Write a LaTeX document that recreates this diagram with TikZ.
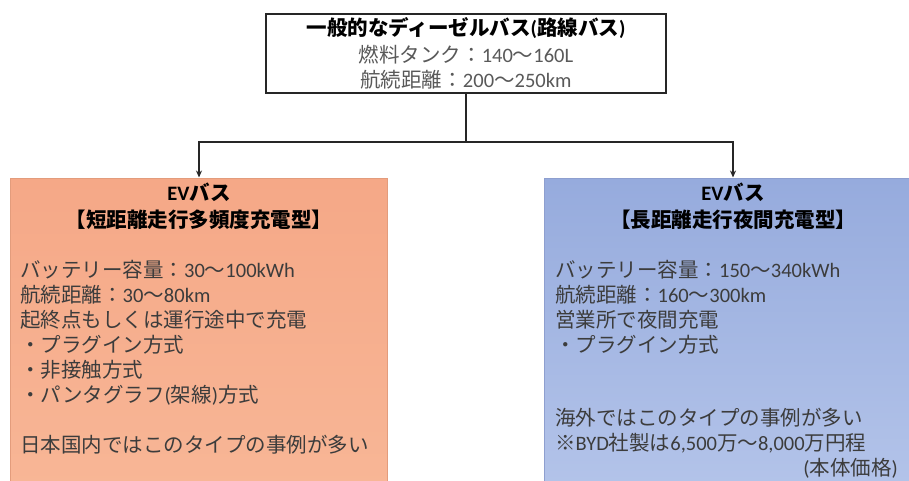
\documentclass[tikz,border=0pt]{standalone}
\usepackage{fontspec}
\setmainfont{Carlito}
\newfontfamily\jp{Noto Sans CJK JP}
\usetikzlibrary{arrows.meta}
\newcommand{\J}[1]{{\jp #1}}
\definecolor{bodytxt}{HTML}{3C3C3C}
\definecolor{greytxt}{HTML}{595959}
\definecolor{orA}{HTML}{F5A887}
\definecolor{orB}{HTML}{F8B797}
\definecolor{orLine}{HTML}{E39C7C}
\definecolor{blA}{HTML}{96ABDD}
\definecolor{blB}{HTML}{B5C5EA}
\definecolor{blLine}{HTML}{8E9FCF}
\tikzset{
  x=1pt, y=-1pt,
  txt/.style={inner sep=0pt, font=\fontsize{20.5}{24}\selectfont, text=bodytxt},
  ttl/.style={inner sep=0pt, font=\fontsize{20.5}{24}\selectfont\bfseries, text=black},
  conn/.style={line width=1.5pt, draw=black!85},
  arr/.style={conn, -{Stealth[length=7pt,width=6pt]}},
  topbox/.style={draw=black!85, line width=1.6pt, fill=white, minimum width=400pt, minimum height=79pt, inner sep=0pt},
  evbox/.style={line width=1pt, minimum width=377pt, minimum height=330pt, inner sep=0pt},
}
\begin{document}
\begin{tikzpicture}
\useasboundingbox (0,0) rectangle (909,481);
\clip (0,0) rectangle (909,481);
% boxes
\node[topbox] (top) at (466,53.5) {};
\node[evbox, draw=orLine, top color=orA, bottom color=orB] (L) at (199,343) {};
\node[evbox, draw=blLine, top color=blA, bottom color=blB, minimum width=378pt] (R) at (733,343) {};
% connectors
\coordinate (j) at (466,142);
\draw[conn] (top.south) -- (j);
\draw[arr] (j) -| (L.north);
\draw[arr] (j) -| (R.north);
% top text
\node[ttl, anchor=base] (t1) at (466,36) {\J{一般的なディーゼルバス}(\J{路線バス})};
\node[txt, text=greytxt, anchor=base] (t2) at (466,62.5) {\J{燃料タンク：}140\J{～}160L};
\node[txt, text=greytxt, anchor=base] (t3) at (466,87.5) {\J{航続距離：}200\J{～}250km};
% left text
\node[ttl, anchor=base] (l1) at (199,200.5) {EV\J{バス}};
\node[ttl, anchor=base] (l2) at (199,227.5) {\J{【短距離走行多頻度充電型】}};
\node[txt, anchor=base west] (l3) at (20,277.5) {\J{バッテリー容量：}30\J{～}100kWh};
\node[txt, anchor=base west] (l4) at (20,302.5) {\J{航続距離：}30\J{～}80km};
\node[txt, anchor=base west] (l5) at (20,327.5) {\J{起終点もしくは運行途中で充電}};
\node[txt, anchor=base west] (l6) at (20,352.5) {\J{・プラグイン方式}};
\node[txt, anchor=base west] (l7) at (20,377.5) {\J{・非接触方式}};
\node[txt, anchor=base west] (l8) at (20,402) {\J{・パンタグラフ}(\J{架線})\J{方式}};
\node[txt, anchor=base west] (l9) at (20,452.5) {\J{日本国内ではこのタイプの事例が多い}};
% right text
\node[ttl, anchor=base] (r1) at (733,200.5) {EV\J{バス}};
\node[ttl, anchor=base] (r2) at (733,227.5) {\J{【長距離走行夜間充電型】}};
\node[txt, anchor=base west] (r3) at (555,277.5) {\J{バッテリー容量：}150\J{～}340kWh};
\node[txt, anchor=base west] (r4) at (555,302.5) {\J{航続距離：}160\J{～}300km};
\node[txt, anchor=base west] (r5) at (555,327.5) {\J{営業所で夜間充電}};
\node[txt, anchor=base west] (r6) at (555,352.5) {\J{・プラグイン方式}};
\node[txt, anchor=base west] (r7) at (555,425.5) {\J{海外ではこのタイプの事例が多い}};
\node[txt, anchor=base west] (r8) at (555,450.5) {\J{※}BYD\J{社製は}6,500\J{万～}8,000\J{万円程}};
\node[txt, anchor=base east] (r9) at (898,475.5) {(\J{本体価格})};
\end{tikzpicture}
\end{document}
